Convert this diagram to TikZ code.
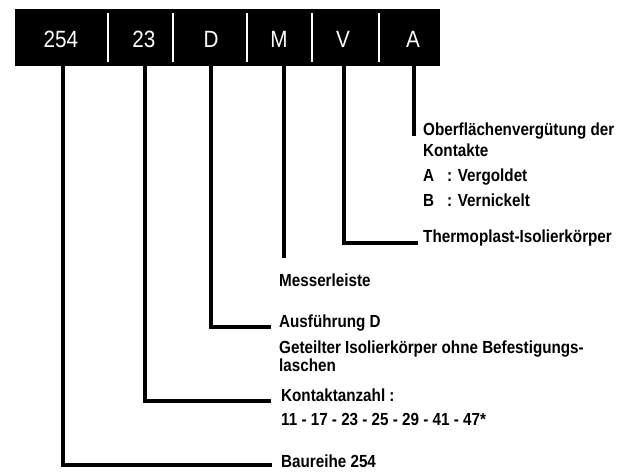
\documentclass[tikz,border=0pt]{standalone}
\usepackage{fontspec}
\setmainfont{Liberation Sans}
\newfontfamily\barfont{Liberation Sans}[FakeStretch=0.88]
\newfontfamily\lblfont{Liberation Sans}[FakeStretch=0.87]
\begin{document}
\begin{tikzpicture}[x=1pt,y=-1pt,
  field/.style={anchor=north, minimum height=57pt, inner sep=0pt, text=white,
    font=\barfont\fontsize{23.5}{26}\selectfont, text height=20.5pt, text depth=0pt},
  lbl/.style={anchor=base west, inner sep=0pt, font=\lblfont\bfseries\fontsize{17.5}{20}\selectfont},
  conn/.style={line width=3.2pt, line cap=butt},
  sep/.style={white, line width=1.8pt}]
\useasboundingbox (0,0) rectangle (633,476);
% code bar
\fill[black] (15,9) rectangle (440,66);
\foreach \x in {108,173,247,312,379} \draw[sep] (\x,13) -- (\x,62);
\node[field] (f254) at (61,9) {254};
\node[field] (f23) at (144,9) {23};
\node[field] (fD) at (211,9) {D};
\node[field] (fM) at (279,9) {M};
\node[field] (fV) at (343,9) {V};
\node[field] (fA) at (413,9) {A};
% labels
\node[lbl] (lober) at (423,136) {Oberflächenvergütung der};
\node[lbl] (lkontakte) at (423,157) {Kontakte};
\node[lbl] (lA) at (423,182) {A};
\node[lbl] (lAt) at (447,182) {: Vergoldet};
\node[lbl] (lB) at (423,207) {B};
\node[lbl] (lBt) at (447,207) {: Vernickelt};
\node[lbl] (ltherm) at (423,243) {Thermoplast-Isolierkörper};
\node[lbl] (lmess) at (279,287) {Messerleiste};
\node[lbl] (lausf) at (279,327) {Ausführung D};
\node[lbl] (lget) at (279,353) {Geteilter Isolierkörper ohne Befestigungs-};
\node[lbl] (llasch) at (279,372) {laschen};
\node[lbl] (lkont) at (281,401) {Kontaktanzahl :};
\node[lbl] (lzahl) at (281,425) {11 - 17 - 23 - 25 - 29 - 41 - 47*};
\node[lbl] (lbau) at (281,467) {Baureihe 254};
% connectors
\coordinate (mend) at (284,258);
\draw[conn] ([xshift=1pt]fA.south) -- ([xshift=1pt]fA.south |- lober.base);
\draw[conn, shorten >=5pt] ([xshift=1pt]fV.south) |- (ltherm.base west);
\draw[conn] ([xshift=5pt]fM.south) -- (mend);
\draw[conn, shorten >=8pt] (fD.south) |- (lausf.base west);
\draw[conn, shorten >=10pt] ([xshift=1pt]f23.south) |- (lkont.base west);
\draw[conn, shorten >=9pt] ([xshift=2pt]f254.south) |- ([yshift=2pt]lbau.base west);
\end{tikzpicture}
\end{document}
